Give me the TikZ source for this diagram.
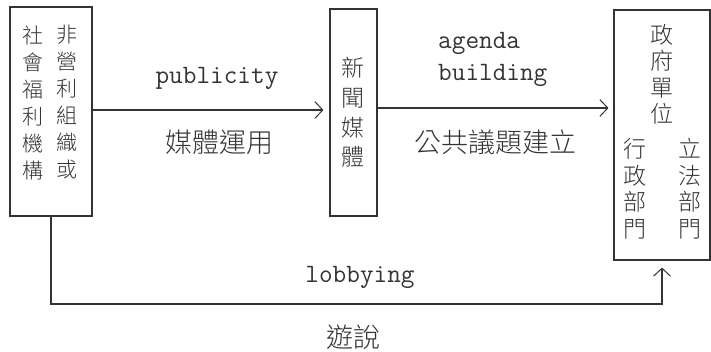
\documentclass[tikz,border=0pt]{standalone}
\usepackage{fontspec}
\newfontfamily\cjk[UprightFont={* Light}]{Noto Sans CJK TC}
\usetikzlibrary{arrows.meta}
\tikzset{
  box/.style={draw=black!80, line width=1.1pt, inner sep=0pt},
  coltext/.style={inner sep=0pt, align=center, text=black!80},
  lbl/.style={inner sep=0pt, text=black!80},
  arr/.style={draw=black!80, line width=1.1pt, -{Straight Barb[length=8pt,width=17pt,line width=1pt]}},
}
\begin{document}
\begin{tikzpicture}[x=1pt,y=-1pt]
\useasboundingbox (0,0) rectangle (711,351);
% boxes
\node[box, minimum width=82pt, minimum height=209pt] (org) at (51,111.5) {};
\node[box, minimum width=47pt, minimum height=207pt] (news) at (353.5,112.5) {};
\node[box, minimum width=96pt, minimum height=250pt] (gov) at (662,135) {};
% box texts
\node[coltext, font=\cjk\fontsize{21}{27}\selectfont] (orgA) at (32.5,102.5) {社\\會\\福\\利\\機\\構};
\node[coltext, font=\cjk\fontsize{21}{27}\selectfont] (orgB) at (67,102.5) {非\\營\\利\\組\\織\\或};
\node[coltext, font=\cjk\fontsize{23}{29.7}\selectfont] (newsT) at (353,112.5) {新\\聞\\媒\\體};
\node[coltext, font=\cjk\fontsize{23}{26.5}\selectfont] (govT) at (662,74) {政\\府\\單\\位};
\node[coltext, font=\cjk\fontsize{23}{26.5}\selectfont] (govA) at (635,188.5) {行\\政\\部\\門};
\node[coltext, font=\cjk\fontsize{23}{26.5}\selectfont] (govB) at (690,188.5) {立\\法\\部\\門};
% connectors
\coordinate (lb) at (357,304);
\draw[arr, shorten >=6pt] ([yshift=1.5pt]org.east) -- ([yshift=2.5pt]news.west);
\draw[arr, shorten >=5pt] ([yshift=4.5pt]news.east) -- ([yshift=27pt]gov.west);
\draw[arr, shorten >=7pt] (org.south) |- (lb) -| (gov.south);
% labels
\node[lbl, font=\ttfamily\fontsize{26.5}{26.5}\selectfont] (pub) at (217,78) {publicity};
\node[lbl, font=\cjk\fontsize{27}{27}\selectfont] (pubz) at (219,142) {媒體運用};
\node[lbl, anchor=west, font=\ttfamily\fontsize{26.5}{26.5}\selectfont] (ag1) at (438,43) {agenda};
\node[lbl, anchor=west, font=\ttfamily\fontsize{26.5}{26.5}\selectfont] (ag2) at (438,75) {building};
\node[lbl, font=\cjk\fontsize{27}{27}\selectfont] (agz) at (495,142) {公共議題建立};
\node[lbl, font=\ttfamily\fontsize{26.5}{26.5}\selectfont] (lob) at (360,277) {lobbying};
\node[lbl, font=\cjk\fontsize{27}{27}\selectfont] (lobz) at (353,337) {遊說};
\end{tikzpicture}
\end{document}
